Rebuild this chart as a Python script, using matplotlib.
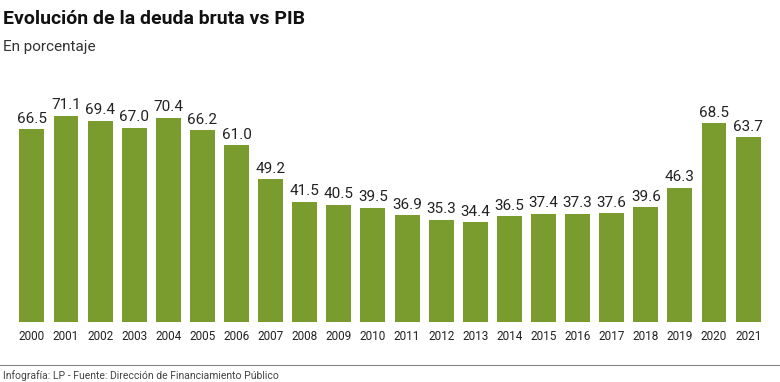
import matplotlib
matplotlib.use('Agg')
import matplotlib.pyplot as plt

YEARS = [str(y) for y in range(2000, 2022)]
DEUDA = [66.5, 71.1, 69.4, 67.0, 70.4, 66.2, 61.0, 49.2, 41.5, 40.5, 39.5,
         36.9, 35.3, 34.4, 36.5, 37.4, 37.3, 37.6, 39.6, 46.3, 68.5, 63.7]

GREEN = '#7a9c2f'
FONT = 'Roboto'

fig = plt.figure(figsize=(7.8, 3.82), dpi=100)
ax = fig.add_axes([0.019, 0.157, 0.962, 0.607])

x = range(len(YEARS))
ax.bar(x, DEUDA, width=0.73, color=GREEN)
for xi, v in zip(x, DEUDA):
    ax.text(xi, v + 1.2, f'{v:.1f}', ha='center', va='bottom',
            fontsize=11, family=FONT, color='#222222')

ax.set_xlim(-0.5, len(YEARS) - 0.5)
ax.set_ylim(0, 80)
ax.set_xticks(list(x))
ax.set_xticklabels(YEARS, fontsize=8.5, family=FONT, color='#222222')
ax.tick_params(axis='x', length=0, pad=6)
ax.set_yticks([])
for s in ax.spines.values():
    s.set_visible(False)

fig.text(0.004, 0.975, 'Evolución de la deuda bruta vs PIB', fontsize=14,
         fontweight='bold', family=FONT, va='top', ha='left', color='#111111')
fig.text(0.004, 0.895, 'En porcentaje', fontsize=11, family=FONT,
         va='top', ha='left', color='#333333')

fig.add_artist(plt.Line2D([0, 1], [0.045, 0.045], transform=fig.transFigure,
                          color='#888888', linewidth=0.8))
fig.text(0.004, 0.03, 'Infografía: LP - Fuente: Dirección de Financiamiento Público',
         fontsize=7.5, family=FONT, va='top', ha='left', color='#444444')

fig.savefig('out.png', dpi=100)
